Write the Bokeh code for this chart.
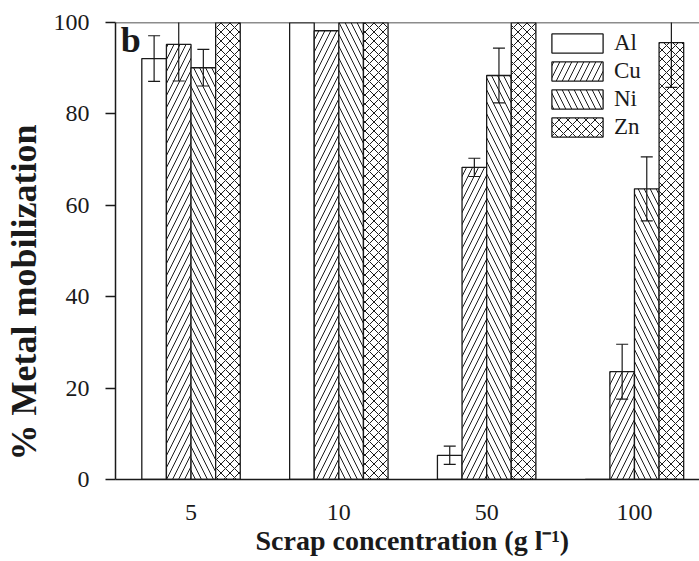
import numpy as np
from bokeh.plotting import figure
from bokeh.models import Range1d, FixedTicker, Label, Span, Legend, LegendItem, Title
from bokeh.embed import file_html
from bokeh.resources import INLINE

# ---- data ----
categories = ["5", "10", "50", "100"]
metals = ["Al", "Cu", "Ni", "Zn"]
al = [92.1, 100.0, 5.3, 0.0]
al_err = [5.0, 0.0, 2.0, 0.0]
cu = [95.2, 98.2, 68.3, 23.6]
cu_err = [8.0, 0.0, 2.0, 6.0]
ni = [90.1, 100.0, 88.4, 63.6]
ni_err = [4.0, 0.0, 6.0, 7.0]
zn = [100.0, 100.0, 100.0, 95.6]
zn_err = [0.0, 0.0, 0.0, 9.8]
y_ticks = [0, 20, 40, 60, 80, 100]

values = [al, cu, ni, zn]
errors = [al_err, cu_err, ni_err, zn_err]
hatches = [None, "/", "\\", "x"]
hatch_scales = [12, 12, 12, 9]

FONT = "Liberation Serif"
INK = "#1a1a1a"

p = figure(width=699, height=561, output_backend="svg", toolbar_location=None,
           x_range=Range1d(-0.511, 3.44), y_range=Range1d(0, 100),
           min_border_left=115, min_border_right=0, min_border_top=22,
           min_border_bottom=82)
p.outline_line_color = None
p.background_fill_color = "white"
p.border_fill_color = "white"
p.xgrid.visible = False
p.ygrid.visible = False

bw = 0.1665
offsets = [-1.5 * bw, -0.5 * bw, 0.5 * bw, 1.5 * bw]
idx = np.arange(len(categories))

renderers = []
for m, vals, off, h, hs in zip(metals, values, offsets, hatches, hatch_scales):
    kw = dict(x=idx + off, top=vals, width=bw, bottom=0, fill_color="white",
              line_color=INK, line_width=1.3)
    if h is not None:
        kw.update(hatch_pattern=h, hatch_color=INK, hatch_weight=1.0, hatch_scale=hs)
    r = p.vbar(**kw)
    renderers.append((m, r))

# error bars
for vals, errs, off in zip(values, errors, offsets):
    xs = [i + off for i, e in enumerate(errs) if e > 0]
    lo = [v - e for v, e in zip(vals, errs) if e > 0]
    hi = [v + e for v, e in zip(vals, errs) if e > 0]
    if xs:
        p.segment(x0=xs, y0=lo, x1=xs, y1=hi, line_color=INK, line_width=1.2)
        p.dash(x=xs, y=lo, size=12, line_color=INK, line_width=1.2)
        p.dash(x=xs, y=hi, size=12, line_color=INK, line_width=1.2)

# top line of frame
p.add_layout(Span(location=100, dimension="width", line_color=INK, line_width=1.5))

# axes
xa = p.xaxis[0]
xa.ticker = FixedTicker(ticks=list(idx))
xa.major_label_overrides = {int(i): c for i, c in zip(idx, categories)}
xa.major_tick_line_color = None
xa.minor_tick_line_color = None
xa.major_tick_out = 0
xa.major_tick_in = 0
xa.axis_line_color = INK
xa.axis_line_width = 1.5
xa.major_label_text_font = FONT
xa.major_label_text_font_size = "24px"
xa.major_label_text_color = INK
xa.major_label_standoff = 25

ya = p.yaxis[0]
ya.ticker = FixedTicker(ticks=y_ticks)
ya.minor_tick_line_color = None
ya.major_tick_out = 10
ya.major_tick_in = 0
ya.major_tick_line_color = INK
ya.major_tick_line_width = 1.3
ya.axis_line_color = INK
ya.axis_line_width = 1.5
ya.major_label_text_font = FONT
ya.major_label_text_font_size = "24px"
ya.major_label_text_color = INK
ya.major_label_standoff = 16
# spacer between tick labels and the axis title
ya.axis_label = "\u00a0"
ya.axis_label_text_font_size = "1px"
ya.axis_label_standoff = 3

# axis titles
p.add_layout(Title(text="% Metal mobilization", align="left", offset=19,
                   text_font=FONT, text_font_style="bold", text_font_size="36px",
                   text_color=INK, standoff=0), "left")
p.add_layout(Title(text="Scrap concentration (g l\u207b\u00b9)", align="left", offset=140,
                   text_font=FONT, text_font_style="bold", text_font_size="28px",
                   text_color=INK, standoff=0), "below")

p.add_layout(Label(x=-0.476, y=100.5, text="b", text_font=FONT, text_font_style="bold",
                   text_font_size="36px", text_align="left", text_baseline="top",
                   text_color=INK))

legend = Legend(items=[LegendItem(label=m, renderers=[r]) for m, r in renderers],
                location=(430, 339))
legend.padding = 0
legend.margin = 0
legend.spacing = 2
legend.glyph_width = 64
legend.glyph_height = 24
legend.label_height = 19
legend.label_standoff = 5
legend.label_text_font = FONT
legend.label_text_font_size = "23px"
legend.label_text_color = INK
legend.border_line_color = None
legend.background_fill_alpha = 0
p.add_layout(legend)

open("out.html", "w").write(file_html(p, INLINE))
